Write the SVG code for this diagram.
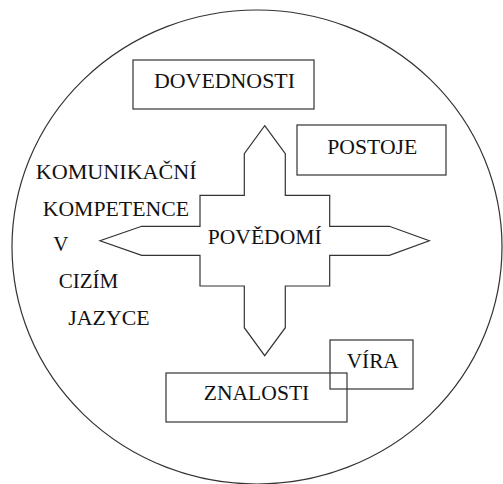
<svg xmlns="http://www.w3.org/2000/svg" width="503" height="484" viewBox="0 0 503 484">
<style>
.s{fill:none;stroke:#333;stroke-width:1.2}
.f{fill:#fff;stroke:#333;stroke-width:1.2}
</style>
<rect width="503" height="484" fill="#fff"/>
<g id="circle"><ellipse class="s" cx="257" cy="247" rx="245" ry="237"/></g>
<g id="connectors"></g>
<g id="povedomi">
<polygon class="f" points="264.7,125.7 285.3,153.7 285.3,195.3 329.7,195.3 329.7,226.3 389.3,226.3 429.3,240.7 389.3,255.3 329.7,255.3 329.7,286 285.3,286 285.3,327.7 264.7,355.7 244.3,327.7 244.3,286 200,286 200,255.3 141.7,255.3 100,240.7 141.7,226.3 200,226.3 200,195.3 244.3,195.3 244.3,153.7"/>
</g>
<g id="dovednosti"><rect class="f" x="133" y="60" width="181" height="49"/></g>
<g id="postoje"><rect class="f" x="297" y="125" width="149" height="50"/></g>
<g id="znalosti"><rect class="f" x="166" y="373" width="181" height="49"/></g>
<g id="vira"><rect class="s" x="330" y="340" width="83" height="49"/></g>
<g id="labels" font-family="Times New Roman" font-size="21" fill="#111">
<text x="207.7" y="244.3" textLength="114" lengthAdjust="spacingAndGlyphs">POVĚDOMÍ</text>
<text x="154" y="87.7" textLength="141" lengthAdjust="spacingAndGlyphs">DOVEDNOSTI</text>
<text x="327.3" y="154" textLength="90" lengthAdjust="spacingAndGlyphs">POSTOJE</text>
<text x="203.7" y="400" textLength="105.6" lengthAdjust="spacingAndGlyphs">ZNALOSTI</text>
<text x="346.7" y="367.7" textLength="52" lengthAdjust="spacingAndGlyphs">VÍRA</text>
<text x="35.7" y="179.3" textLength="161" lengthAdjust="spacingAndGlyphs">KOMUNIKAČNÍ</text>
<text x="42.7" y="215.7" textLength="146.3" lengthAdjust="spacingAndGlyphs">KOMPETENCE</text>
<text x="53.3" y="251">V</text>
<text x="58.7" y="288" textLength="59.6" lengthAdjust="spacingAndGlyphs">CIZÍM</text>
<text x="68.3" y="325" textLength="81.4" lengthAdjust="spacingAndGlyphs">JAZYCE</text>
</g>
</svg>
